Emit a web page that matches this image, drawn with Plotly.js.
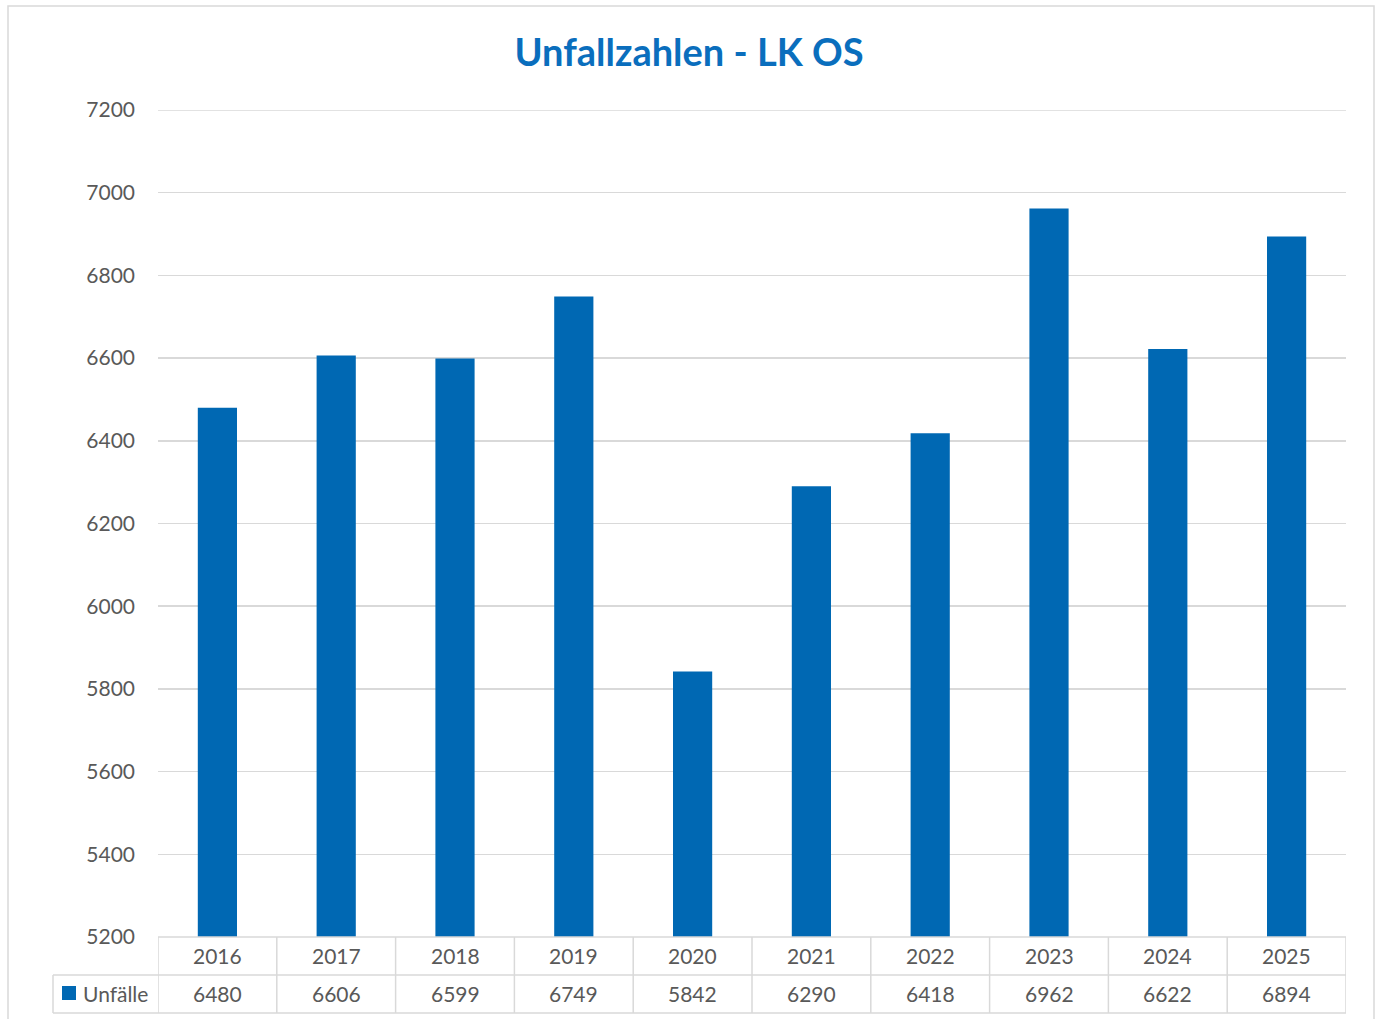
<!DOCTYPE html>
<html>
<head>
<meta charset="utf-8">
<script src="https://cdn.plot.ly/plotly-3.0.1.min.js"></script>
<style>
html,body{margin:0;padding:0;background:#fff;}
#chart{width:1378px;height:1019px;}
</style>
</head>
<body>
<div id="chart"></div>
<script>
const years = ["2016","2017","2018","2019","2020","2021","2022","2023","2024","2025"];
const unfaelle = [6480,6606,6599,6749,5842,6290,6418,6962,6622,6894];
const seriesName = "Unfälle";
const chartTitle = "Unfallzahlen - LK OS";

const BLUE = "#0068B3";
const GRID = "#d9d9d9";
const TXT = "#595959";
const FONT = "Lato, 'Open Sans', sans-serif";

// paper-coordinate helpers (plot area: x 158..1346, y 110..937)
const PW = 1188, PH = 827;
const px = v => (v - 158) / PW;
const py = v => (937 - v) / PH;

const annotations = [];
const shapes = [];

years.forEach((yr, i) => {
  annotations.push({x: i, xref: "x", y: py(955), yref: "paper", text: yr, showarrow: false,
    xanchor: "center", yanchor: "middle", font: {family: FONT, size: 21, color: TXT}});
  annotations.push({x: i, xref: "x", y: py(993), yref: "paper", text: String(unfaelle[i]), showarrow: false,
    xanchor: "center", yanchor: "middle", font: {family: FONT, size: 21, color: TXT}});
});
annotations.push({x: px(81), xref: "paper", y: py(993), yref: "paper", text: seriesName, showarrow: false,
  xanchor: "left", yanchor: "middle", font: {family: FONT, size: 21, color: TXT}});

const line = {color: GRID, width: 1.5};
// top gridline at range edge
shapes.push({type: "line", xref: "paper", yref: "y", x0: 0, x1: 1, y0: 7200, y1: 7200, line});
// vertical table lines between categories
for (let k = 0; k <= years.length; k++) {
  shapes.push({type: "line", xref: "x", yref: "paper", x0: k - 0.5, x1: k - 0.5, y0: 0, y1: py(1013), line});
}
// horizontal table lines
shapes.push({type: "line", xref: "paper", yref: "paper", x0: 0, x1: 1, y0: 0, y1: 0, line});
shapes.push({type: "line", xref: "paper", yref: "paper", x0: px(53), x1: 1, y0: py(975), y1: py(975), line});
shapes.push({type: "line", xref: "paper", yref: "paper", x0: px(53), x1: 1, y0: py(1013), y1: py(1013), line});
shapes.push({type: "line", xref: "paper", yref: "paper", x0: px(53), x1: px(53), y0: py(975), y1: py(1013), line});
// legend key square
shapes.push({type: "rect", xref: "paper", yref: "paper", x0: px(62), x1: px(76), y0: py(1000), y1: py(986),
  fillcolor: BLUE, line: {width: 0}});
// outer chart border
shapes.push({type: "rect", xref: "paper", yref: "paper", x0: px(8), x1: px(1374), y0: py(1040), y1: py(6),
  line: {color: GRID, width: 1.5}, fillcolor: "rgba(0,0,0,0)"});

const data = [{
  type: "bar", x: years, y: unfaelle, name: seriesName,
  marker: {color: BLUE}, hoverinfo: "x+y"
}];

const layout = {
  width: 1378, height: 1019,
  margin: {l: 158, r: 32, t: 110, b: 82},
  paper_bgcolor: "#fff", plot_bgcolor: "#fff",
  title: {text: chartTitle, x: 0.5, xanchor: "center", y: 1 - 53/1019, yanchor: "middle",
    font: {family: FONT, size: 38, color: "#0a6ebd", weight: "bold"}},
  showlegend: false,
  bargap: 0.67,
  xaxis: {type: "category", range: [-0.5, 9.5], showticklabels: false, showgrid: false,
    zeroline: false, showline: false, ticks: ""},
  yaxis: {range: [5200, 7200], dtick: 200, tick0: 5200, showgrid: true, gridcolor: GRID, gridwidth: 1.5,
    zeroline: false, showline: false, ticks: "", ticklabelstandoff: 22,
    tickfont: {family: FONT, size: 21, color: TXT}},
  annotations, shapes
};

Plotly.newPlot("chart", data, layout, {displayModeBar: false, staticPlot: true});
</script>
</body>
</html>
